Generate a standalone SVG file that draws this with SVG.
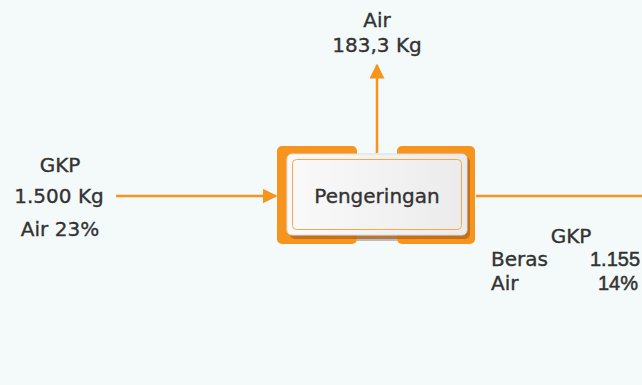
<svg xmlns="http://www.w3.org/2000/svg" width="642" height="385" viewBox="0 0 642 385">
<defs>
<style>
.t{font-family:"DejaVu Sans","Noto Sans","Liberation Sans",sans-serif;fill:#333;stroke:#333;stroke-width:0.35;font-size:20px;}
.n{font-family:"Liberation Sans",Arial,sans-serif;stroke-width:0.5;}
.c{text-anchor:middle;}
.ln{stroke:#F7941D;stroke-width:2.5;fill:none;}
</style>
<linearGradient id="g" x1="0" y1="0" x2="1" y2="0">
<stop offset="0" stop-color="#FAFAFA"/><stop offset="1" stop-color="#EBEBEC"/>
</linearGradient>
<marker id="ah" viewBox="0 0 10 10" refX="9" refY="5" markerWidth="6" markerHeight="6" orient="auto" markerUnits="strokeWidth">
<path d="M0,0 L10,5 L0,10 z" fill="#F7941D"/>
</marker>
</defs>
<rect width="642" height="385" fill="#F3FAF9"/>
<g id="connectors">
<line class="ln" x1="116" y1="196" x2="276" y2="196" marker-end="url(#ah)"/>
<line class="ln" x1="377" y1="153" x2="377" y2="65" marker-end="url(#ah)"/>
<line class="ln" x1="476" y1="196" x2="642" y2="196"/>
</g>
<g id="pengeringan">
<rect x="277" y="146" width="80" height="98" rx="5" fill="#F7941D"/>
<rect x="397" y="146" width="78" height="98" rx="5" fill="#F7941D"/>
<rect x="357" y="236" width="40" height="5" fill="#B8BCBE"/>
<rect x="290" y="157" width="180" height="82" rx="5" fill="#B5651D" opacity="0.8"/>
<rect x="287" y="154" width="180" height="81" rx="5" fill="url(#g)" stroke="#DDD" stroke-width="1"/>
<rect x="292.5" y="159.5" width="169" height="70" rx="4" fill="none" stroke="#F7A94A" stroke-width="1"/>
<text class="t c" x="377" y="203" font-size="21">Pengeringan</text>
</g>
<g id="input">
<text class="t c" x="60" y="172" font-size="21">GKP</text>
<text class="t c" x="59" y="203" font-size="21">1.500 Kg</text>
<text class="t c" x="60" y="236" font-size="21">Air 23%</text>
</g>
<g id="air-out">
<text class="t c" x="377" y="27">Air</text>
<text class="t c" x="377" y="52">183,3 Kg</text>
</g>
<g id="output">
<text class="t c" x="571" y="243">GKP</text>
<text class="t" x="491" y="266">Beras</text>
<text class="t n" x="590" y="266">1.155</text>
<text class="t" x="491" y="290">Air</text>
<text class="t n" x="598" y="290">14%</text>
</g>
</svg>
